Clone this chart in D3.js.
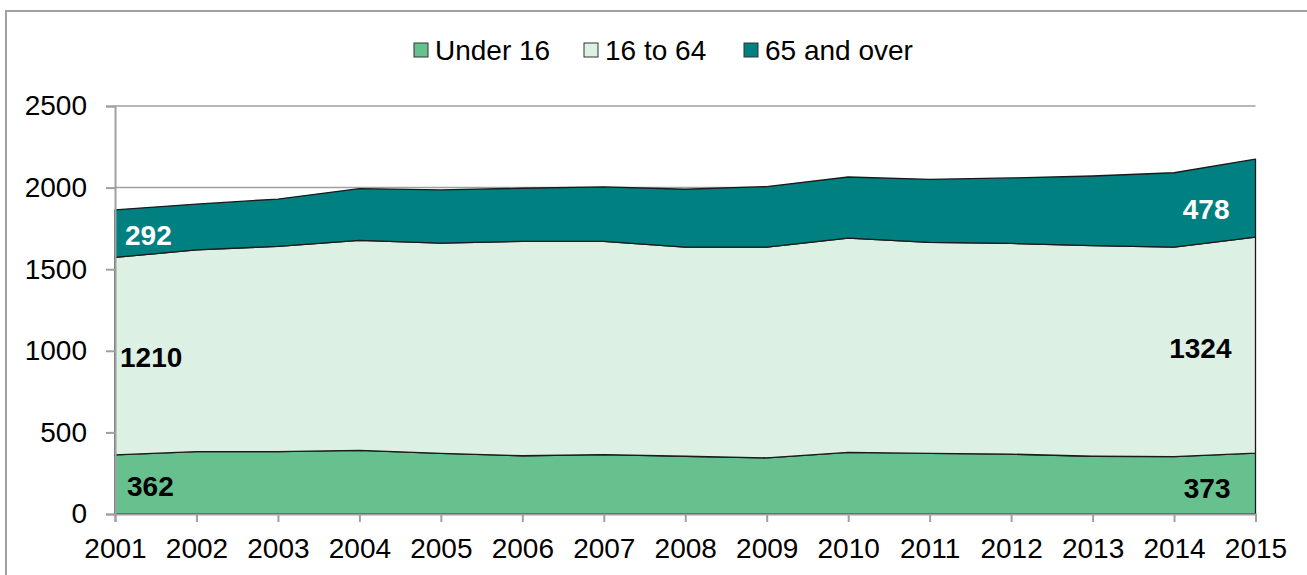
<!DOCTYPE html>
<html>
<head>
<meta charset="utf-8">
<script src="https://cdn.jsdelivr.net/npm/d3@7"></script>
<style>
  body { margin: 0; background: #fff; }
  svg { display: block; font-family: "Liberation Sans", Arial, sans-serif; }
</style>
</head>
<body>
<svg id="chart" width="1307" height="575"></svg>
<script>
const years = [2001,2002,2003,2004,2005,2006,2007,2008,2009,2010,2011,2012,2013,2014,2015];
const under16 = [362,382,382,390,372,357,364,354,344,377,371,367,354,352,373];
const age16to64 = [1210,1237,1258,1287,1288,1314,1307,1281,1291,1314,1293,1291,1290,1283,1324];
const over65 = [292,280,290,317,326,325,333,355,371,374,387,401,427,456,478];
const seriesNames = ["Under 16", "16 to 64", "65 and over"];
const seriesColors = ["#66c18e", "#ddf0e4", "#008080"];
const yTicks = [0,500,1000,1500,2000,2500];

const svg = d3.select("#chart");
const W = 1307, H = 575;
const FONT = "Liberation Sans, Arial, sans-serif";

// outer border
svg.append("rect").attr("x", 6).attr("y", 11).attr("width", W + 20).attr("height", H + 20)
  .attr("fill", "none").attr("stroke", "#a0a0a0").attr("stroke-width", 2);

const x = d3.scalePoint().domain(years).range([115, 1255.5]);
const y = d3.scaleLinear().domain([0, 2500]).range([514, 106]);

const table = years.map((yr, i) => ({ year: yr, "Under 16": under16[i], "16 to 64": age16to64[i], "65 and over": over65[i] }));
const stack = d3.stack().keys(seriesNames)(table);

// gridlines
svg.append("g").selectAll("line").data(yTicks.filter(d => d > 0)).join("line")
  .attr("x1", 115).attr("x2", 1255.5).attr("y1", d => y(d)).attr("y2", d => y(d))
  .attr("stroke", "#a0a0a0").attr("stroke-width", 1.5);

const area = d3.area().x(d => x(d.data.year)).y0(d => y(d[0])).y1(d => y(d[1]));
svg.append("g").selectAll("path").data(stack).join("path")
  .attr("d", area)
  .attr("fill", (d, i) => seriesColors[i])
  .attr("stroke", "#1a1a1a").attr("stroke-width", 1.3).attr("stroke-linejoin", "round");

// y axis
const yAxis = d3.axisLeft(y).tickValues(yTicks).tickSize(9).tickPadding(19).tickFormat(d3.format("d"));
const gy = svg.append("g").attr("transform", "translate(115,0)").call(yAxis);
gy.select(".domain").attr("stroke", "#a0a0a0").attr("stroke-width", 2);
gy.selectAll(".tick line").attr("stroke", "#a0a0a0").attr("stroke-width", 2);
gy.selectAll(".tick text").attr("font-size", 28).attr("fill", "#000").attr("font-family", FONT);

// x axis
const xAxis = d3.axisBottom(x).tickSize(8).tickPadding(16).tickFormat(d3.format("d"));
const gx = svg.append("g").attr("transform", "translate(0,514)").call(xAxis);
gx.select(".domain").attr("stroke", "#a0a0a0").attr("stroke-width", 2);
gx.selectAll(".tick line").attr("stroke", "#a0a0a0").attr("stroke-width", 2);
gx.selectAll(".tick text").attr("font-size", 28).attr("fill", "#000").attr("font-family", FONT);

// data labels
const first = 0, last = years.length - 1;
const labels = [
  { v: over65[first], yv: under16[first] + age16to64[first] + over65[first] / 2 - 8, i: first, anchor: "start", dx: 10, color: "#fff" },
  { v: age16to64[first], yv: under16[first] + age16to64[first] / 2 - 5, i: first, anchor: "start", dx: 5, color: "#000" },
  { v: under16[first], yv: under16[first] / 2 - 9, i: first, anchor: "start", dx: 12, color: "#000" },
  { v: over65[last], yv: under16[last] + age16to64[last] + over65[last] / 2 - 67, i: last, anchor: "end", dx: -26, color: "#fff" },
  { v: age16to64[last], yv: under16[last] + age16to64[last] / 2 - 18, i: last, anchor: "end", dx: -24, color: "#000" },
  { v: under16[last], yv: under16[last] / 2 - 27, i: last, anchor: "end", dx: -25, color: "#000" }
];
svg.append("g").selectAll("text").data(labels).join("text")
  .attr("x", d => x(years[d.i]) + d.dx)
  .attr("y", d => y(d.yv))
  .attr("dy", "0.36em")
  .attr("text-anchor", d => d.anchor)
  .attr("font-size", 28).attr("font-weight", "bold")
  .attr("fill", d => d.color)
  .text(d => d.v);

// legend
const legendItems = [
  { name: seriesNames[0], x: 414 },
  { name: seriesNames[1], x: 584 },
  { name: seriesNames[2], x: 744 }
];
const lg = svg.append("g");
legendItems.forEach((it, i) => {
  lg.append("rect").attr("x", it.x).attr("y", 43).attr("width", 14).attr("height", 14)
    .attr("fill", seriesColors[i]).attr("stroke", "#333").attr("stroke-width", 1);
  lg.append("text").attr("x", it.x + 21).attr("y", 50).attr("dy", "0.36em")
    .attr("font-size", 28).attr("fill", "#000").text(it.name);
});
</script>
</body>
</html>
